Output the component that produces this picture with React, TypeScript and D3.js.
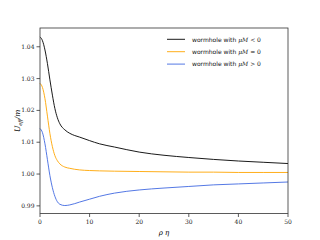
import React from "react";
import * as d3 from "d3";

// radial coordinate rho*eta
const rho = [0, 0.5, 1, 1.5, 2, 2.5, 3, 3.5, 4, 5, 6, 7, 8, 10, 12, 15, 20, 25, 30, 35, 40, 45, 50];

// U_eff / m for the three wormholes
const negMu = [1.0431, 1.0419, 1.039, 1.0347, 1.0296, 1.0248, 1.0206, 1.0177, 1.0158, 1.0139, 1.0128, 1.0121, 1.0116, 1.0105, 1.0095, 1.0085, 1.0069, 1.0059, 1.0052, 1.0046, 1.0041, 1.0037, 1.0033];
const zeroMu = [1.0285, 1.0272, 1.0237, 1.0182, 1.0127, 1.0086, 1.0058, 1.0042, 1.0032, 1.0022, 1.0018, 1.0015, 1.0013, 1.0011, 1.001, 1.0009, 1.0008, 1.0007, 1.0006, 1.0006, 1.0005, 1.0005, 1.0005];
const posMu = [1.0143, 1.013, 1.0095, 1.0045, 0.9995, 0.9957, 0.993, 0.9913, 0.9905, 0.9901, 0.9903, 0.9907, 0.9912, 0.9921, 0.993, 0.994, 0.995, 0.9956, 0.9961, 0.9966, 0.9969, 0.9972, 0.9975];

const xTicks = [0, 10, 20, 30, 40, 50];
const yTicks = [0.99, 1.0, 1.01, 1.02, 1.03, 1.04];

const series = [
  { sign: "<", values: negMu, color: "#000000" },
  { sign: "=", values: zeroMu, color: "#FFA500" },
  { sign: ">", values: posMu, color: "#4169E1" },
];

const serif = "'DejaVu Serif', 'Liberation Serif', serif";
const sans = "'DejaVu Sans', 'Liberation Sans', sans-serif";

const App = () => {
  const left = 40, right = 288, top = 28, bottom = 213.5;

  const x = d3.scaleLinear().domain([0, 50]).range([left, right]);
  const y = d3.scaleLinear().domain([0.9876, 1.0459]).range([bottom, top]);

  const line = d3
    .line<number>()
    .x((_, i) => x(rho[i]))
    .y((d) => y(d))
    .curve(d3.curveMonotoneX);

  return (
    <svg width={320} height={240} style={{ position: "absolute", left: 0, top: 0, background: "#fff" }}>
      {series.map((s) => (
        <path key={s.sign} d={line(s.values) || ""} fill="none" stroke={s.color} strokeWidth={0.9} />
      ))}

      <rect x={left} y={top} width={right - left} height={bottom - top} fill="none" stroke="#333" strokeWidth={0.8} />

      {xTicks.map((t) => (
        <g key={t}>
          <line x1={x(t)} x2={x(t)} y1={bottom} y2={bottom + 3.5} stroke="#333" strokeWidth={0.8} />
          <text x={x(t)} y={bottom + 10.5} fontSize={6} fontFamily={serif} textAnchor="middle" fill="#222">
            {t}
          </text>
        </g>
      ))}
      {yTicks.map((t) => (
        <g key={t}>
          <line x1={left - 3.5} x2={left} y1={y(t)} y2={y(t)} stroke="#333" strokeWidth={0.8} />
          <text x={left - 5.5} y={y(t) + 2} fontSize={6} fontFamily={serif} textAnchor="end" fill="#222">
            {t.toFixed(2)}
          </text>
        </g>
      ))}

      <text x={(left + right) / 2} y={235} fontSize={7} fontFamily={serif} fontStyle="italic" textAnchor="middle">
        ρ η
      </text>
      <text transform={`translate(20,${(top + bottom) / 2}) rotate(-90)`} fontSize={7.5} fontFamily={serif} fontStyle="italic" textAnchor="middle">
        U<tspan fontSize={5} dy={1.5}>eff</tspan>
        <tspan dy={-1.5}>/m</tspan>
      </text>

      {series.map((s, i) => {
        const ly = 39.3 + i * 12.4;
        return (
          <g key={"lg" + s.sign}>
            <line x1={167} x2={185} y1={ly} y2={ly} stroke={s.color} strokeWidth={0.9} />
            <text x={192} y={ly + 2.2} fontSize={6} fontFamily={sans} fill="#111">
              wormhole with{" "}
              <tspan fontFamily={serif} fontStyle="italic">μM</tspan>
              <tspan fontFamily={serif}> {s.sign} 0</tspan>
            </text>
          </g>
        );
      })}
    </svg>
  );
};

export default App;
